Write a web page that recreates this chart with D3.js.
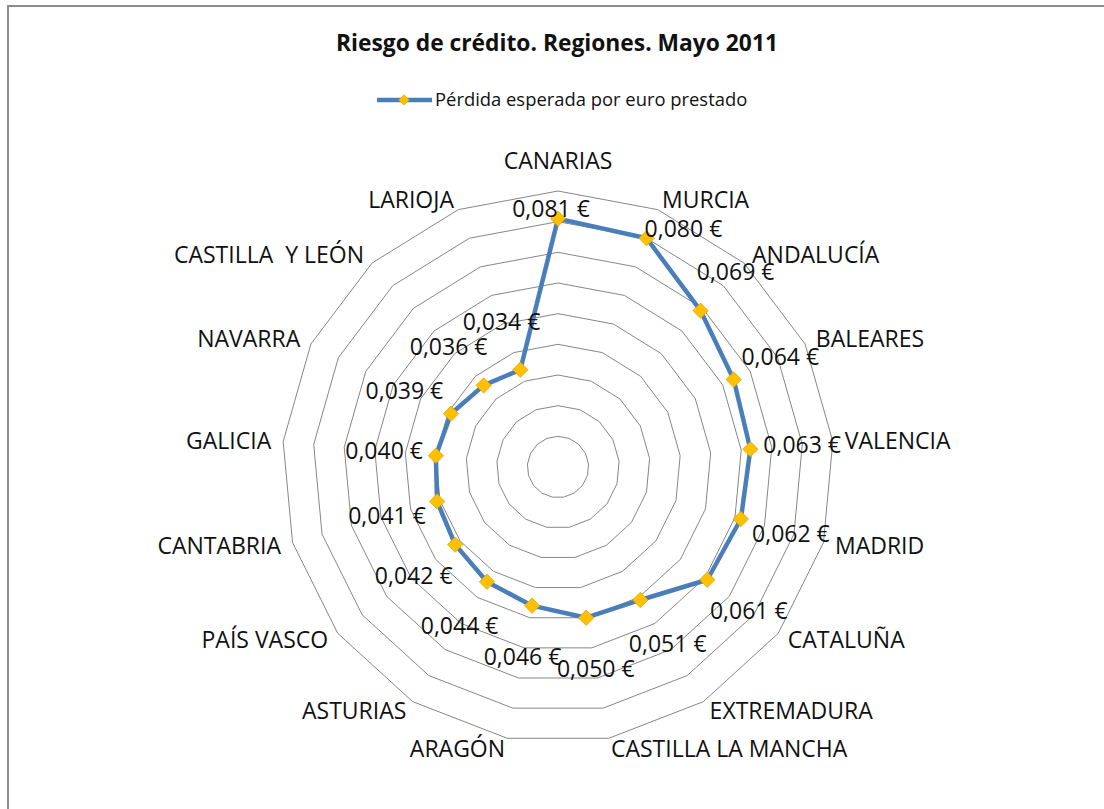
<!DOCTYPE html>
<html>
<head>
<meta charset="utf-8">
<script src="https://cdn.jsdelivr.net/npm/d3@7"></script>
<style>
  body { margin: 0; background: #fff; }
  svg { display: block; font-family: "Open Sans", sans-serif; }
  text { white-space: pre; }
</style>
</head>
<body>
<svg id="chart"></svg>
<script>
// datos: pérdida esperada por euro prestado, mayo 2011
var regiones = ["CANARIAS", "MURCIA", "ANDALUCÍA", "BALEARES", "VALENCIA", "MADRID",
  "CATALUÑA", "EXTREMADURA", "CASTILLA LA MANCHA", "ARAGÓN", "ASTURIAS", "PAÍS VASCO",
  "CANTABRIA", "GALICIA", "NAVARRA", "CASTILLA  Y LEÓN", "LARIOJA"];
var perdida = [0.081, 0.080, 0.069, 0.064, 0.063, 0.062, 0.061, 0.051, 0.050,
  0.046, 0.044, 0.042, 0.041, 0.040, 0.039, 0.036, 0.034];
var serieNombre = "Pérdida esperada por euro prestado";
var titulo = "Riesgo de crédito. Regiones. Mayo 2011";

var width = 1104, height = 809;
var cx = 558, cy = 467, radio = 276;

var svg = d3.select("#chart")
  .attr("width", width)
  .attr("height", height);

// marco del gráfico
svg.append("rect")
  .attr("x", 8).attr("y", 6)
  .attr("width", 1300).attr("height", 1000)
  .attr("fill", "none")
  .attr("stroke", "#8c8c8c")
  .attr("stroke-width", 2);

svg.append("text")
  .attr("x", 557).attr("y", 51)
  .attr("text-anchor", "middle")
  .attr("font-size", 22.8)
  .attr("font-weight", "bold")
  .attr("fill", "#111")
  .text(titulo);

// leyenda
var ley = svg.append("g");
ley.append("line")
  .attr("x1", 377).attr("x2", 432).attr("y1", 100).attr("y2", 100)
  .attr("stroke", "#4a7ebb").attr("stroke-width", 4.5);
ley.append("path")
  .attr("d", d3.symbol(d3.symbolDiamond2, 70)())
  .attr("transform", "translate(404,100)")
  .attr("fill", "#ffc000").attr("stroke", "#e0a800").attr("stroke-width", 0.8);
ley.append("text")
  .attr("x", 435).attr("y", 106)
  .attr("font-size", 18.4)
  .attr("fill", "#111")
  .text(serieNombre);

var r = d3.scaleLinear().domain([0, 0.09]).range([0, radio]);
var ang = d3.scalePoint().domain(d3.range(regiones.length))
  .range([0, 2 * Math.PI * (regiones.length - 1) / regiones.length]);

function punto(i, v) {
  var a = ang(i);
  return [cx + r(v) * Math.sin(a), cy - r(v) * Math.cos(a)];
}

// anillos de la rejilla
var niveles = r.ticks(9).filter(function(t) { return t > 0; });
svg.append("g").selectAll("path")
  .data(niveles)
  .enter().append("path")
  .attr("d", function(t) {
    return d3.line()(regiones.map(function(c, i) { return punto(i, t); })) + "Z";
  })
  .attr("fill", "none")
  .attr("stroke", "#868686")
  .attr("stroke-width", 1);

// etiquetas de categoría
svg.append("g").selectAll("text")
  .data(regiones)
  .enter().append("text")
  .attr("font-size", 23)
  .attr("fill", "#111")
  .attr("text-anchor", function(d, i) {
    var s = Math.sin(ang(i));
    return s > 0.1 ? "start" : (s < -0.1 ? "end" : "middle");
  })
  .attr("x", function(d, i) {
    return punto(i, 0.09)[0] + Math.sin(ang(i)) * 12;
  })
  .attr("y", function(d, i) {
    var p = punto(i, 0.09), dy = -Math.cos(ang(i));
    var extra = Math.abs(Math.sin(ang(i))) < 0.1 && dy < 0 ? -19 : 0;
    return p[1] + dy * 11 + extra;
  })
  .attr("dy", "0.36em")
  .text(function(d) { return d; });

// serie
var pts = perdida.map(function(v, i) { return punto(i, v); });
svg.append("path")
  .attr("d", d3.line()(pts) + "Z")
  .attr("fill", "none")
  .attr("stroke", "#4a7ebb")
  .attr("stroke-width", 4.5)
  .attr("stroke-linejoin", "round");

svg.append("g").selectAll("path")
  .data(pts)
  .enter().append("path")
  .attr("d", d3.symbol(d3.symbolDiamond2, 150)())
  .attr("transform", function(p) { return "translate(" + p[0] + "," + p[1] + ")"; })
  .attr("fill", "#ffc000")
  .attr("stroke", "#e0a800")
  .attr("stroke-width", 0.8);

// etiquetas de datos
var es = d3.formatLocale({decimal: ",", thousands: ".", grouping: [3], currency: ["", " €"]});
var fmt = es.format("$.3f");
svg.append("g").selectAll("text")
  .data(perdida)
  .enter().append("text")
  .attr("font-size", 23)
  .attr("fill", "#111")
  .each(function(v, i) {
    var a = ang(i), p = punto(i, v), t = d3.select(this);
    if (r(v) + 52 > radio + 14) {
      // cerca del borde: la etiqueta va pegada al marcador
      var s = Math.sin(a);
      t.attr("text-anchor", s > 0.1 ? "start" : "middle")
        .attr("x", s > 0.1 ? p[0] - 2 : p[0] - 7)
        .attr("y", p[1] - 10);
    } else {
      t.attr("text-anchor", "middle")
        .attr("x", p[0] + Math.sin(a) * 52)
        .attr("y", p[1] - Math.cos(a) * 52);
    }
  })
  .attr("dy", "0.36em")
  .text(function(v) { return fmt(v); });
</script>
</body>
</html>
